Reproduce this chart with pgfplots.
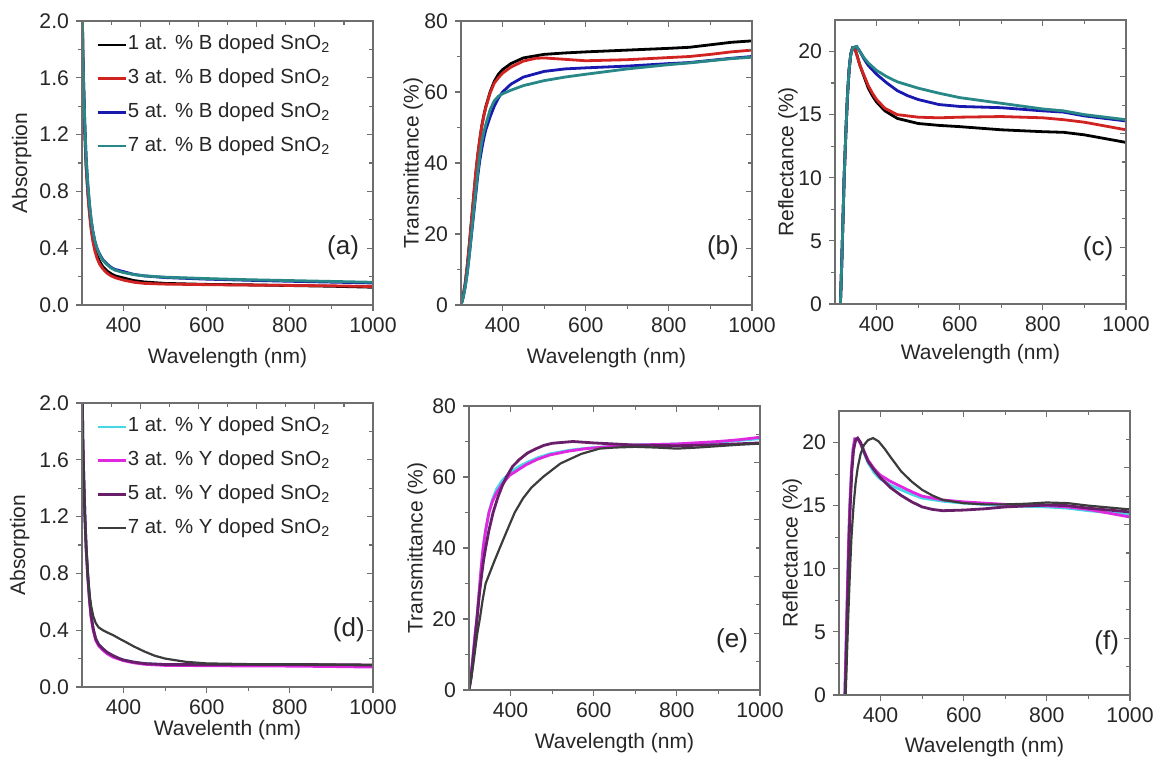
\documentclass[border=0pt]{standalone}
\usepackage{fontspec}
\setmainfont{Liberation Sans}
\usepackage{xcolor}
\usepackage{pgfplots}
\pgfplotsset{compat=1.18}

\definecolor{bred}{RGB}{210,35,35}
\definecolor{bblue}{RGB}{25,25,175}
\definecolor{bteal}{RGB}{40,135,135}
\definecolor{ycyan}{RGB}{70,215,230}
\definecolor{ymag}{RGB}{225,40,225}
\definecolor{ypur}{RGB}{105,30,105}
\definecolor{ygray}{RGB}{60,60,60}
\definecolor{framegray}{RGB}{110,110,110}

\newcommand\ticksize{\fontsize{10.6}{12}\selectfont}
\newcommand\labsize{\fontsize{10.5}{12}\selectfont}
\newcommand\legsize{\fontsize{10.2}{12}\selectfont}
\newcommand\pansize{\fontsize{13}{15}\selectfont}

\pgfplotsset{
  base/.style={scale only axis, width=145.5pt, height=142pt, anchor=south west,
    xmin=300, xmax=1000, ymin=0,
    axis line style={draw=framegray, line width=0.7pt},
    every tick/.style={draw=framegray, line width=0.6pt},
    major tick length=3pt, minor tick length=1.8pt},
  panel/.style={base, xtick={400,600,800,1000}, minor x tick num=1,
    xtick pos=left, ytick pos=left, tick align=outside,
    tick label style={font=\ticksize, text=black!85},
    label style={font=\labsize, text=black!85},
    /pgf/number format/assume math mode=true,
    /pgf/number format/1000 sep={},
    every axis plot/.append style={line width=1.4pt},
    legend cell align=left,
    legend image code/.code={\draw[##1, line width=1.2pt] (0pt,0pt) -- (14pt,0pt);},
    legend style={draw=none, fill=none, anchor=north west, font=\legsize,
      row sep=6.5pt, inner sep=0pt, text=black!85,
      nodes={inner sep=0.5pt, text height=7.2pt, text depth=2.2pt}}},
  mirror/.style={base, xtick pos=right, ytick pos=right, tick align=inside,
    xticklabels={}, yticklabels={}, minor x tick num=1, minor y tick num=1},
}

\begin{document}
\begin{tikzpicture}
\useasboundingbox (0,0) rectangle (579pt,379pt);

% ---------------- (a) absorption, B doped
\begin{axis}[panel, at={(41pt,226.5pt)}, ymax=2,
  ytick={0,0.4,0.8,1.2,1.6,2.0}, minor y tick num=1,
  yticklabel style={/pgf/number format/.cd, fixed, fixed zerofill, precision=1},
  xlabel={Wavelength (nm)}, ylabel={Absorption},
  xlabel style={at={(axis description cs:0.5,-0.187)}, anchor=center},
  ylabel style={at={(axis description cs:-0.207,0.5)}, anchor=center},
  legend style={at={(axis description cs:0.048,0.954)}}]
\addplot[black] coordinates {(300,2.2) (302,1.75) (304,1.5) (307,1.2) (310,0.98) (314,0.8) (318,0.66) (322,0.55) (326,0.47) (331,0.4) (336,0.35) (342,0.31) (350,0.27) (360,0.24) (370,0.22) (380,0.205) (400,0.19) (425,0.172) (450,0.162) (500,0.152) (600,0.145) (700,0.142) (800,0.137) (900,0.132) (1000,0.125)};
\addplot[bred] coordinates {(300,2.2) (302,1.75) (304,1.5) (307,1.2) (310,0.97) (314,0.78) (318,0.64) (322,0.53) (326,0.45) (331,0.38) (336,0.33) (342,0.29) (350,0.255) (360,0.225) (370,0.205) (380,0.192) (400,0.175) (425,0.16) (450,0.152) (500,0.147) (600,0.143) (700,0.14) (800,0.138) (900,0.135) (1000,0.13)};
\addplot[bblue] coordinates {(300,2.25) (302,1.8) (304,1.55) (307,1.25) (310,1.03) (314,0.85) (318,0.71) (322,0.6) (326,0.52) (331,0.45) (336,0.4) (342,0.36) (350,0.32) (360,0.29) (370,0.265) (380,0.25) (400,0.235) (425,0.215) (450,0.205) (500,0.193) (600,0.182) (700,0.174) (800,0.167) (900,0.161) (1000,0.155)};
\addplot[bteal] coordinates {(300,2.25) (302,1.8) (304,1.55) (307,1.25) (310,1.03) (314,0.85) (318,0.71) (322,0.6) (326,0.52) (331,0.45) (336,0.4) (342,0.355) (350,0.315) (360,0.285) (370,0.26) (380,0.245) (400,0.228) (425,0.214) (450,0.205) (500,0.196) (600,0.186) (700,0.178) (800,0.172) (900,0.166) (1000,0.16)};
\legend{1 at. \% B doped SnO\textsubscript{2}, 3 at. \% B doped SnO\textsubscript{2}, 5 at. \% B doped SnO\textsubscript{2}, 7 at. \% B doped SnO\textsubscript{2}}
\node[font=\pansize, text=black!85] at (axis description cs:0.897,0.2) {(a)};
\end{axis}
\begin{axis}[mirror, at={(41pt,226.5pt)}, ymax=2, ytick={0,0.4,0.8,1.2,1.6,2.0}, xtick={300,440,580,720,860,1000}]
\end{axis}

% ---------------- (b) transmittance, B doped
\begin{axis}[panel, at={(230.5pt,226.5pt)}, ymax=80,
  ytick={0,20,40,60,80}, minor y tick num=1,
  xlabel={Wavelength (nm)}, ylabel={Transmittance (\%)},
  xlabel style={at={(axis description cs:0.5,-0.187)}, anchor=center},
  ylabel style={at={(axis description cs:-0.164,0.5)}, anchor=center}]
\addplot[black] coordinates {(300,0) (305,2.5) (310,6) (315,11) (320,17) (325,23.5) (330,30) (335,36.5) (340,42) (345,46.5) (350,50.5) (355,53.5) (360,56) (370,60) (380,63) (390,65) (400,66.3) (420,68) (450,69.6) (500,70.6) (550,71) (600,71.3) (700,71.8) (800,72.3) (850,72.6) (900,73.3) (950,74) (1000,74.4)};
\addplot[bred] coordinates {(300,0) (305,2.5) (310,6) (315,11) (320,17) (325,23.5) (330,30) (335,36.5) (340,42) (345,46.5) (350,50.3) (355,53.3) (360,55.8) (370,59.7) (380,62.5) (390,64) (400,65.3) (420,67) (450,68.7) (480,69.5) (500,69.6) (550,69.2) (600,68.8) (700,69.1) (800,69.7) (850,70) (900,70.6) (950,71.3) (1000,71.8)};
\addplot[bblue] coordinates {(300,0) (305,2) (310,5) (315,9) (320,14) (325,19.5) (330,25) (335,30.5) (340,36) (345,40.5) (350,44) (355,47) (360,49.5) (370,53) (380,56) (390,58.3) (400,60) (420,62.2) (450,64.2) (500,65.8) (550,66.5) (600,66.8) (700,67.3) (800,68) (850,68.3) (900,68.9) (950,69.5) (1000,70)};
\addplot[bteal] coordinates {(300,0) (305,2) (310,5) (315,9) (320,14) (325,20) (330,26) (335,31.5) (340,37) (345,42) (350,46) (355,48.8) (360,51) (370,55) (380,57.5) (390,58.8) (400,59.5) (420,60.5) (450,61.8) (500,63.2) (550,64.2) (600,65) (700,66.5) (800,67.7) (850,68.2) (900,68.8) (950,69.4) (1000,69.8)};
\node[font=\pansize, text=black!85] at (axis description cs:0.9,0.2) {(b)};
\end{axis}
\begin{axis}[mirror, at={(230.5pt,226.5pt)}, ymax=80, ytick={0,16,32,48,64,80}, xtick={400,600,800,1000}]
\end{axis}

% ---------------- (c) reflectance, B doped
\begin{axis}[panel, at={(417.5pt,227pt)}, ymax=22.5,
  ytick={0,5,10,15,20}, minor y tick num=1,
  xlabel={Wavelength (nm)}, ylabel={Reflectance (\%)},
  xlabel style={at={(axis description cs:0.5,-0.175)}, anchor=center},
  ylabel style={at={(axis description cs:-0.162,0.5)}, anchor=center}]
\addplot[black] coordinates {(313,0) (316,3) (319,6.5) (322,10) (326,13.5) (330,16.5) (334,18.6) (338,19.8) (342,20.3) (347,20.3) (352,19.8) (360,18.9) (370,18) (380,17.1) (390,16.5) (400,16) (420,15.3) (450,14.7) (500,14.3) (550,14.15) (600,14.05) (700,13.8) (800,13.65) (850,13.6) (900,13.4) (950,13.1) (1000,12.8)};
\addplot[bred] coordinates {(313,0) (316,3) (319,6.5) (322,10) (326,13.5) (330,16.5) (334,18.6) (338,19.8) (342,20.3) (347,20.3) (352,19.8) (360,18.9) (370,18.1) (380,17.3) (390,16.7) (400,16.2) (420,15.5) (450,15) (500,14.8) (550,14.75) (600,14.8) (700,14.85) (800,14.75) (850,14.6) (900,14.4) (950,14.1) (1000,13.8)};
\addplot[bblue] coordinates {(313,0) (316,3) (319,6.5) (322,10) (326,13.5) (330,16.5) (334,18.6) (338,19.8) (343,20.3) (352,20.4) (360,20) (370,19.4) (380,18.9) (400,18.2) (425,17.5) (450,16.9) (475,16.5) (500,16.2) (550,15.8) (600,15.65) (700,15.55) (800,15.3) (850,15.2) (900,14.9) (950,14.7) (1000,14.5)};
\addplot[bteal] coordinates {(313,0) (316,3) (319,6.5) (322,10) (326,13.5) (330,16.5) (334,18.6) (338,19.8) (343,20.3) (352,20.4) (360,20) (370,19.5) (380,19.1) (400,18.5) (425,18) (450,17.6) (500,17.1) (550,16.7) (600,16.35) (700,15.9) (800,15.45) (850,15.3) (900,15) (950,14.8) (1000,14.6)};
\node[font=\pansize, text=black!85] at (axis description cs:0.904,0.196) {(c)};
\end{axis}
\begin{axis}[mirror, at={(417.5pt,227pt)}, ymax=22.5, ytick={0,4.5,9,13.5,18,22.5}, xtick={400,600,800,1000}]
\end{axis}

% ---------------- (d) absorption, Y doped
\begin{axis}[panel, at={(41pt,35.5pt)}, ymax=2,
  ytick={0,0.4,0.8,1.2,1.6,2.0}, minor y tick num=1,
  yticklabel style={/pgf/number format/.cd, fixed, fixed zerofill, precision=1},
  xlabel={Wavelenth (nm)}, ylabel={Absorption},
  xlabel style={at={(axis description cs:0.5,-0.151)}, anchor=center},
  ylabel style={at={(axis description cs:-0.214,0.5)}, anchor=center},
  legend style={at={(axis description cs:0.048,0.954)}}]
\addplot[ycyan] coordinates {(300,2.2) (302,1.75) (304,1.5) (307,1.2) (310,0.98) (314,0.78) (318,0.62) (322,0.5) (327,0.41) (333,0.34) (340,0.3) (350,0.27) (360,0.245) (375,0.22) (390,0.2) (400,0.19) (425,0.175) (450,0.165) (500,0.158) (600,0.155) (700,0.155) (800,0.155) (900,0.152) (1000,0.148)};
\addplot[ymag] coordinates {(300,2.2) (302,1.75) (304,1.5) (307,1.2) (310,0.97) (314,0.77) (318,0.61) (322,0.49) (327,0.4) (333,0.33) (340,0.29) (350,0.26) (360,0.235) (375,0.21) (390,0.195) (400,0.185) (425,0.17) (450,0.16) (500,0.152) (600,0.15) (700,0.148) (800,0.147) (900,0.144) (1000,0.14)};
\addplot[ypur] coordinates {(300,2.2) (302,1.75) (304,1.5) (307,1.2) (310,0.98) (314,0.78) (318,0.62) (322,0.5) (327,0.41) (333,0.34) (340,0.3) (350,0.27) (360,0.245) (375,0.22) (390,0.2) (400,0.19) (425,0.175) (450,0.165) (500,0.158) (600,0.157) (700,0.158) (800,0.158) (900,0.157) (1000,0.155)};
\addplot[ygray, line width=1.1pt] coordinates {(300,2.2) (302,1.75) (304,1.5) (307,1.2) (310,1) (314,0.8) (318,0.66) (322,0.57) (327,0.5) (333,0.45) (340,0.42) (350,0.4) (360,0.385) (375,0.365) (390,0.34) (400,0.325) (425,0.285) (450,0.25) (475,0.22) (500,0.2) (550,0.177) (600,0.166) (700,0.161) (800,0.16) (900,0.158) (1000,0.155)};
\legend{1 at. \% Y doped SnO\textsubscript{2}, 3 at. \% Y doped SnO\textsubscript{2}, 5 at. \% Y doped SnO\textsubscript{2}, 7 at. \% Y doped SnO\textsubscript{2}}
\node[font=\pansize, text=black!85] at (axis description cs:0.917,0.2) {(d)};
\end{axis}
\begin{axis}[mirror, at={(41pt,35.5pt)}, ymax=2, ytick={0,0.4,0.8,1.2,1.6,2.0}, xtick={300,440,580,720,860,1000}]
\end{axis}

% ---------------- (e) transmittance, Y doped
\begin{axis}[panel, at={(234.5pt,34pt)}, ymax=80,
  ytick={0,20,40,60,80}, minor y tick num=1,
  xlabel={Wavelength (nm)}, ylabel={Transmittance (\%)},
  xlabel style={at={(axis description cs:0.5,-0.186)}, anchor=center},
  ylabel style={at={(axis description cs:-0.178,0.5)}, anchor=center}]
\addplot[ycyan] coordinates {(300,0) (305,4) (310,10) (315,16) (319,20) (324,27) (329,34) (334,40) (340,45) (348,50) (356,53.5) (366,56.5) (380,59) (398,61.2) (418,62.8) (438,64) (465,65.4) (494,66.5) (540,67.5) (582,68.1) (640,68.6) (700,69) (800,69.3) (900,69.8) (950,70.3) (1000,70.8)};
\addplot[ymag] coordinates {(300,0) (305,4) (310,10) (315,16) (319,20) (324,27) (329,34) (334,40) (340,45) (348,50) (356,53) (366,55.5) (380,58) (398,60.5) (418,62) (438,63.5) (465,65) (494,66.2) (540,67.3) (582,68) (640,68.6) (700,69) (800,69.3) (900,70) (950,70.5) (1000,71.2)};
\addplot[ypur] coordinates {(300,0) (305,3.5) (310,9) (315,15) (320,21) (325,27) (330,32) (335,36.5) (340,40) (348,45) (358,50) (370,54.5) (380,57.5) (390,60) (405,63) (422,65) (440,66.7) (462,68) (480,68.9) (500,69.5) (550,70) (600,69.6) (650,69.3) (700,69) (800,68.8) (900,69.1) (1000,69.6)};
\addplot[ygray, line width=1.1pt] coordinates {(300,0) (305,3) (310,7) (315,11.5) (320,16) (326,20) (333,25.5) (340,30) (350,33) (360,36) (374,40) (390,44.5) (410,50) (430,54) (450,57) (478,60) (500,62) (520,63.8) (542,65) (570,66.5) (614,68) (650,68.3) (700,68.5) (750,68.3) (800,68) (850,68.3) (900,68.7) (950,69.1) (1000,69.4)};
\node[font=\pansize, text=black!85] at (axis description cs:0.904,0.175) {(e)};
\end{axis}
\begin{axis}[mirror, at={(234.5pt,34pt)}, ymax=80, ytick={0,16,32,48,64,80}, xtick={400,600,800,1000}]
\end{axis}

% ---------------- (f) reflectance, Y doped
\begin{axis}[panel, at={(419.5pt,31.5pt)}, ymax=22.5,
  ytick={0,5,10,15,20}, minor y tick num=1,
  xlabel={Wavelength (nm)}, ylabel={Reflectance (\%)},
  xlabel style={at={(axis description cs:0.5,-0.184)}, anchor=center},
  ylabel style={at={(axis description cs:-0.161,0.5)}, anchor=center}]
\addplot[ycyan] coordinates {(314,0) (317,4) (320,8) (323,12) (326,15) (330,17.8) (334,19.5) (338,20.3) (345,20.3) (352,19.9) (360,19.2) (370,18.4) (385,17.6) (400,17.1) (425,16.6) (450,16.25) (475,15.9) (500,15.6) (550,15.35) (600,15.2) (700,15) (800,14.9) (850,14.8) (900,14.6) (950,14.45) (1000,14.3)};
\addplot[ymag] coordinates {(314,0) (317,4) (320,8) (323,12) (326,15) (330,17.8) (334,19.5) (338,20.3) (345,20.3) (352,19.9) (360,19.3) (370,18.6) (385,17.9) (400,17.4) (425,16.9) (450,16.5) (475,16.1) (500,15.75) (550,15.45) (600,15.3) (700,15.1) (800,15) (850,14.9) (900,14.7) (950,14.4) (1000,14.1)};
\addplot[ypur] coordinates {(315,0) (318,4) (321,8) (324,12) (327,15) (331,17.8) (335,19.4) (340,20.2) (345,20.35) (352,20) (360,19.3) (370,18.5) (385,17.8) (400,17.2) (425,16.4) (450,15.8) (475,15.3) (500,14.9) (525,14.7) (550,14.6) (600,14.65) (650,14.75) (700,14.9) (800,15.05) (850,15) (900,14.8) (950,14.65) (1000,14.5)};
\addplot[ygray, line width=1.1pt] coordinates {(316,0) (319,3) (322,6) (326,9.5) (330,12.5) (335,15) (340,16.8) (345,18) (352,19.1) (360,19.8) (370,20.2) (382,20.35) (395,20.1) (410,19.5) (425,18.8) (450,17.7) (475,16.9) (500,16.25) (525,15.8) (550,15.45) (600,15.2) (650,15.1) (700,15.1) (750,15.15) (800,15.25) (850,15.2) (900,15) (950,14.85) (1000,14.7)};
\node[font=\pansize, text=black!85] at (axis description cs:0.92,0.184) {(f)};
\end{axis}
\begin{axis}[mirror, at={(419.5pt,31.5pt)}, ymax=22.5, ytick={0,4.5,9,13.5,18,22.5}, xtick={400,600,800,1000}]
\end{axis}

\end{tikzpicture}
\end{document}
